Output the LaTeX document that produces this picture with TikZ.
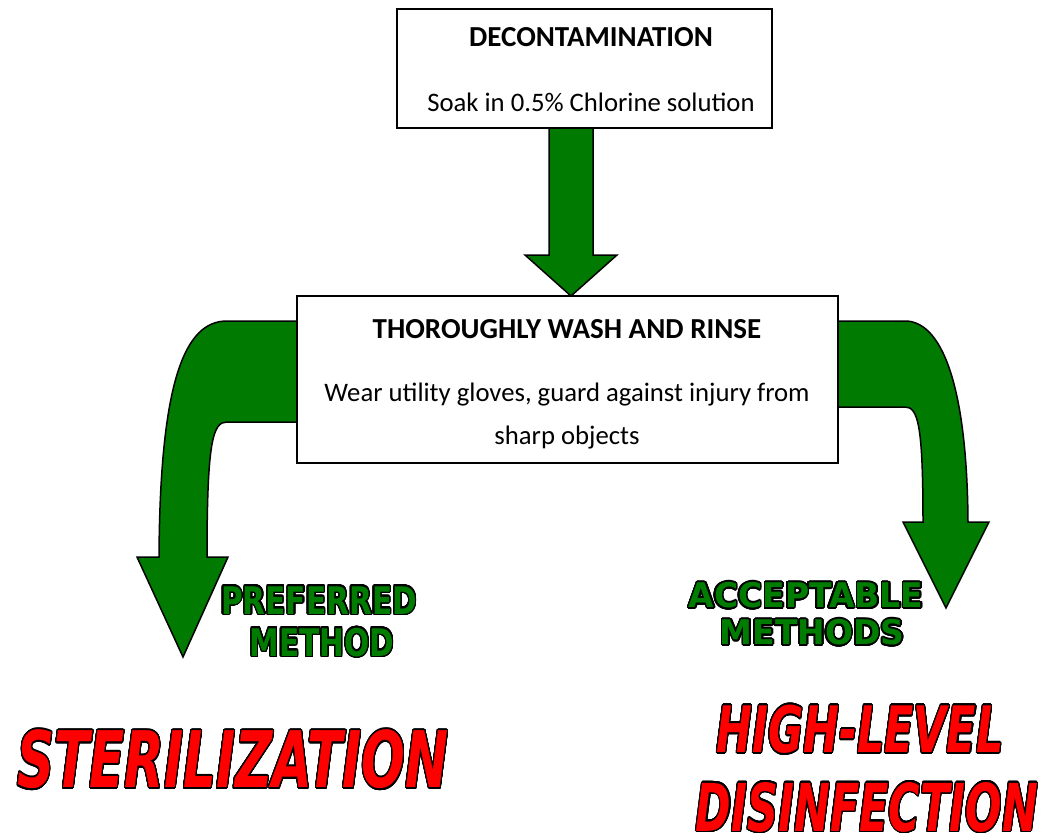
\documentclass[tikz,border=0pt]{standalone}
\usepackage{fontspec}
\setmainfont{Carlito}
\newfontfamily\bannerfont{DejaVu Sans}
\usepackage{contour}
\usetikzlibrary{positioning}
\definecolor{arrowgreen}{RGB}{0,122,0}
\definecolor{labelgreen}{RGB}{0,125,0}
\definecolor{methodred}{RGB}{255,0,0}
\contourlength{1.6pt}
\contournumber{32}
\newcommand{\bannertext}[3]{\scalebox{#1}[1]{\fontsize{#2}{#2}\selectfont\contour{black}{#3}}}

\tikzset{
  stepbox/.style={draw=black, line width=2pt, fill=white, inner sep=0pt},
  bigarrow/.style={draw=black, line width=1.5pt, fill=arrowgreen, line join=miter},
  boxtitle/.style={font=\fontsize{29}{35}\selectfont\bfseries, anchor=base, inner sep=0pt},
  boxtext/.style={font=\fontsize{26.7}{32}\selectfont, anchor=base, inner sep=0pt},
  methodlabel/.style={font=\bannerfont\bfseries, text=labelgreen, inner sep=0pt},
  methodname/.style={font=\bannerfont\bfseries\itshape, text=methodred, inner sep=0pt}
}

\begin{document}
\begin{tikzpicture}[x=1pt,y=-1pt]
    \useasboundingbox (0,0) rectangle (1045,840);

    % arrows behind the boxes
    \draw[bigarrow] (549,120) -- (549,255) -- (525,255) -- (571,296) -- (617,255) -- (593,255) -- (593,120) -- cycle;
    \draw[bigarrow] (320,321) -- (227,321) .. controls (185,321) and (160,380) .. (159,557)
        -- (137,557) -- (183,657) -- (228,557) -- (207,557)
        .. controls (207,440) and (213,422) .. (227,422) -- (320,422) -- cycle;
    \draw[bigarrow] (815,321) -- (905,321) .. controls (940,321) and (967,380) .. (968,522)
        -- (989,522) -- (946,608) -- (903,522) -- (923,522)
        .. controls (923,425) and (918,407) .. (905,407) -- (815,407) -- cycle;

    % boxes
    \node[stepbox, minimum width=375pt, minimum height=119pt] (decon) at (584.5,68.5) {};
    \node[boxtitle] (decontitle) at (591,47) {DECONTAMINATION};
    \node[boxtext] (decontext) at (591,112) {Soak in 0.5\% Chlorine solution};

    \node[stepbox, minimum width=541pt, minimum height=167pt] (wash) at (567.5,379.5) {};
    \node[boxtitle] (washtitle) at (567,338) {THOROUGHLY WASH AND RINSE};
    \node[boxtext] (washtext) at (567,401) {Wear utility gloves, guard against injury from};
    \node[boxtext] (washtextb) at (567,444) {sharp objects};

    % method labels
    \node[methodlabel] (preferred) at (319,601) {\bannertext{0.78}{38}{PREFERRED}};
    \node[methodlabel] (prefmethod) at (322,643) {\bannertext{0.78}{38}{METHOD}};
    \node[methodlabel] (acceptable) at (806,596) {\bannertext{0.97}{34}{ACCEPTABLE}};
    \node[methodlabel] (accmethods) at (812,633) {\bannertext{0.97}{34}{METHODS}};

    \node[methodname] (steril) at (233,760) {\bannertext{0.66}{78}{STERILIZATION}};
    \node[methodname] (highlevel) at (860,730) {\bannertext{0.67}{64}{HIGH-LEVEL}};
    \node[methodname] (disinf) at (867,808) {\bannertext{0.65}{66}{DISINFECTION}};
\end{tikzpicture}
\end{document}
